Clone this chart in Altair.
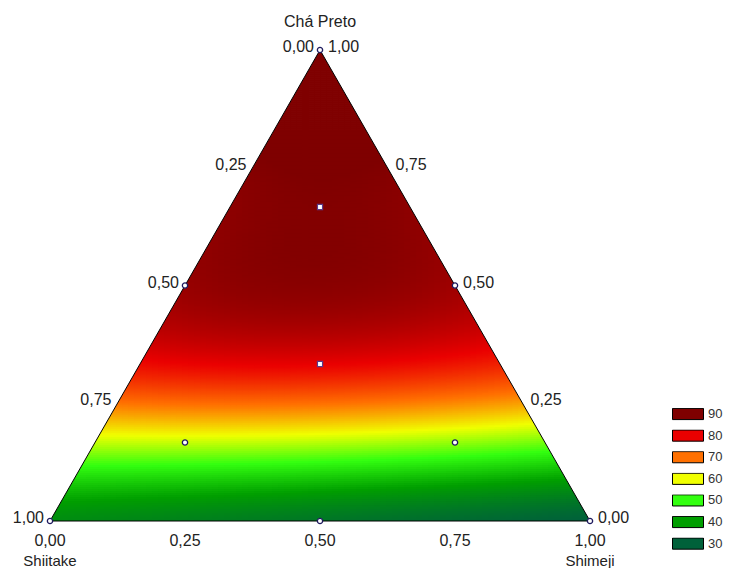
import altair as alt
import numpy as np
import pandas as pd

# ---- Data (response values read off the colour field) ----
# centre line (Shiitake = Shimeji), by Chá Preto fraction
center_cha = [0.002, 0.023, 0.045, 0.066, 0.087, 0.108, 0.125, 0.140, 0.161, 0.183, 0.214,
              0.236, 0.257, 0.289, 0.310, 0.352, 0.406, 0.469, 0.597, 0.667, 0.80, 0.90, 1.0]
center_val = [32, 36, 39, 41, 44, 47, 50, 52, 57, 60, 64,
              68, 72, 76, 79, 81, 84, 87, 89.5, 90, 91, 91.5, 92]
# left edge (Shimeji = 0)
left_cha = [0.0, 0.034, 0.066, 0.098, 0.130, 0.161, 0.193, 0.257, 0.289, 0.35, 0.5, 0.75]
left_val = [38, 40, 42, 46, 51, 57, 60, 71, 77, 81, 87, 90.5]
# right edge (Shiitake = 0)
right_cha = [0.0, 0.087, 0.144, 0.223, 0.274, 0.335, 0.5, 0.75]
right_val = [30, 40, 50, 60, 70, 79, 87, 90.5]
# bottom edge (Chá Preto = 0), by Shimeji fraction
bottom_shimeji = [0.0, 0.25, 0.5, 0.75, 1.0]
bottom_val = [38, 35, 33, 31, 30]

levels = [90, 80, 70, 60, 50, 40, 30]
level_colors = ["#7f0000", "#ea0000", "#ff7000", "#f0ff00", "#33ff10", "#009e00", "#00613a"]

ticks = [0.0, 0.25, 0.5, 0.75, 1.0]
tick_labels = ["0,00", "0,25", "0,50", "0,75", "1,00"]

# design points (fractions)
pt_shiitake = [1.0, 0.0, 0.0, 0.5, 0.5, 0.0, 2/3, 1/6, 1/3, 1/6]
pt_shimeji = [0.0, 1.0, 0.0, 0.5, 0.0, 0.5, 1/6, 2/3, 1/3, 1/6]
pt_cha = [0.0, 0.0, 1.0, 0.0, 0.5, 0.5, 1/6, 1/6, 1/3, 2/3]
pt_kind = ["o", "o", "o", "o", "o", "o", "o", "o", "s", "s"]

# triangle vertices in plot coordinates (x = Shimeji + Chá/2, y = Chá)
tri_x = [0.0, 0.5, 1.0, 0.0]
tri_y = [0.0, 1.0, 0.0, 0.0]


# ---- Smooth response surface fitted to the readings ----
def basis(c, u):
    c = np.asarray(c, dtype=float)
    u = np.asarray(u, dtype=float)
    cols = [c ** k for k in range(6)] + [u * c ** k for k in range(3)] + [u * u * c ** k for k in range(2)]
    return np.stack(cols, axis=-1)


obs_c, obs_u, obs_v = [], [], []
for c, v in zip(center_cha, center_val):
    obs_c.append(c); obs_u.append(0.0); obs_v.append(v)
for c, v in zip(left_cha, left_val):
    obs_c.append(c); obs_u.append(-(1 - c)); obs_v.append(v)
for c, v in zip(right_cha, right_val):
    obs_c.append(c); obs_u.append(1 - c); obs_v.append(v)
for s, v in zip(bottom_shimeji, bottom_val):
    obs_c.append(0.0); obs_u.append(s - (1 - s)); obs_v.append(v)
coef, *_ = np.linalg.lstsq(basis(obs_c, obs_u), np.asarray(obs_v, dtype=float), rcond=None)

# ---- Build field cells ----
N_ROWS = 236
DX = 1 / 90
eps_x = 0.8 / 540
eps_y = 0.8 / 471
rows = []
for j in range(N_ROWS):
    c0 = j / N_ROWS
    c1 = (j + 1) / N_ROWS
    cm = (c0 + c1) / 2
    xl = c0 / 2
    xr = 1 - c0 / 2
    k0 = int(np.floor(xl / DX))
    k1 = int(np.ceil(xr / DX))
    for k in range(k0, k1):
        x0 = max(k * DX, xl)
        x1 = min((k + 1) * DX, xr)
        if x1 <= x0:
            continue
        xc = min(max((x0 + x1) / 2, cm / 2), 1 - cm / 2)
        b = max(xc - cm / 2, 0.0)
        a = max(1 - b - cm, 0.0)
        v = float(basis(cm, b - a) @ coef)
        rows.append({"x": x0, "x2": x1 + eps_x, "y": c0, "y2": c1 + eps_y, "v": round(v, 2)})
field = pd.DataFrame(rows)

xs = alt.Scale(domain=[0, 1], nice=False, zero=False)
ys = alt.Scale(domain=[0, 1], nice=False, zero=False)

color_scale = alt.Scale(domain=levels[::-1], range=level_colors[::-1], clamp=True, interpolate="rgb")

field_layer = alt.Chart(field).mark_rect(strokeWidth=0).encode(
    x=alt.X("x:Q", scale=xs, axis=None),
    x2="x2:Q",
    y=alt.Y("y:Q", scale=ys, axis=None),
    y2="y2:Q",
    color=alt.Color("v:Q", scale=color_scale,
                    legend=alt.Legend(type="symbol", values=levels, title=None,
                                      orient="none", legendX=622, legendY=358,
                                      symbolType="M-1,-0.36H1V0.36H-1Z", symbolSize=961,
                                      symbolStrokeColor="black", symbolStrokeWidth=1,
                                      symbolOpacity=1, clipHeight=12, rowPadding=8.6,
                                      labelFontSize=13, labelColor="#333333",
                                      labelFont="Liberation Sans", labelOffset=4, padding=0)),
)

# white masks outside the triangle
mask_left = pd.DataFrame({"x": tri_x[0:2], "y": tri_y[0:2], "y2": [1.0, 1.0]})
mask_right = pd.DataFrame({"x": tri_x[1:3], "y": tri_y[1:3], "y2": [1.0, 1.0]})
mask_layers = [
    alt.Chart(m).mark_area(color="white", opacity=1).encode(
        x=alt.X("x:Q", scale=xs, axis=None),
        y=alt.Y("y:Q", scale=ys, axis=None),
        y2="y2:Q",
    )
    for m in (mask_left, mask_right)
]

outline = alt.Chart(pd.DataFrame({"x": tri_x, "y": tri_y, "o": list(range(len(tri_x)))})).mark_line(
    color="black", strokeWidth=1
).encode(
    x=alt.X("x:Q", scale=xs, axis=None),
    y=alt.Y("y:Q", scale=ys, axis=None),
    order="o:Q",
)

pts = pd.DataFrame({
    "x": [s + c / 2 for s, c in zip(pt_shimeji, pt_cha)],
    "y": pt_cha,
    "kind": pt_kind,
})
circles = alt.Chart(pts[pts.kind == "o"]).mark_point(
    shape="circle", size=28, fill="white", fillOpacity=1, stroke="#1e1a5e", strokeWidth=1.3, opacity=1
).encode(x=alt.X("x:Q", scale=xs, axis=None), y=alt.Y("y:Q", scale=ys, axis=None))
squares = alt.Chart(pts[pts.kind == "s"]).mark_point(
    shape="square", size=26, fill="white", fillOpacity=1, stroke="#5a3a8a", strokeWidth=1.2, opacity=1
).encode(x=alt.X("x:Q", scale=xs, axis=None), y=alt.Y("y:Q", scale=ys, axis=None))

FONT = "Liberation Sans"
TXT = "#222222"

left_df = pd.DataFrame({"x": [(1 - t) / 2 for t in ticks], "y": [1 - t for t in ticks], "t": tick_labels})
right_df = pd.DataFrame({"x": [1 - t / 2 for t in ticks], "y": ticks, "t": tick_labels})
bottom_df = pd.DataFrame({"x": ticks, "y": [0.0] * len(ticks), "t": tick_labels})


def text_layer(df, fs=16, baseline="middle", **kw):
    return alt.Chart(df).mark_text(font=FONT, fontSize=fs, color=TXT, baseline=baseline, **kw).encode(
        x=alt.X("x:Q", scale=xs, axis=None),
        y=alt.Y("y:Q", scale=ys, axis=None),
        text="t:N",
    )


left_text = text_layer(left_df, align="right", dx=-6, dy=-3)
right_text = text_layer(right_df, align="left", dx=8, dy=-3)
bottom_text = text_layer(bottom_df, align="center", dy=20)

titles = pd.DataFrame({"x": [0.5, 0.0, 1.0], "y": [1.0, 0.0, 0.0],
                       "t": ["Chá Preto", "Shiitake", "Shimeji"]})
title_top = text_layer(titles.iloc[[0]], align="center", dy=-28)
title_bottom = text_layer(titles.iloc[1:], fs=15, baseline="alphabetic", align="center", dy=45)

chart = alt.layer(
    field_layer, *mask_layers, outline, circles, squares,
    left_text, right_text, bottom_text, title_top, title_bottom,
).properties(
    width=540, height=471,
    padding={"left": 42, "top": 42, "right": 135, "bottom": 47},
    autosize=alt.AutoSizeParams(type="none"),
    background="white",
).configure_view(stroke=None)

chart.save("out.html", embed_options={"renderer": "svg", "actions": False})
